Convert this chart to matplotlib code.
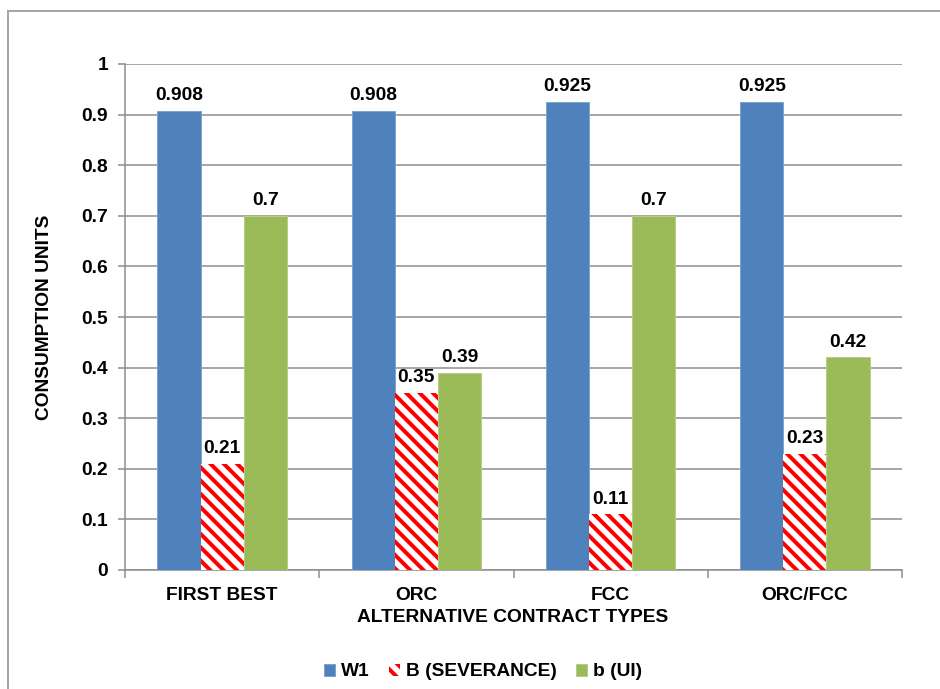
import numpy as np
import matplotlib.pyplot as plt
from matplotlib.patches import Rectangle

# 数据
categories = ['FIRST BEST', 'ORC', 'FCC', 'ORC/FCC']
w1 = [0.908, 0.908, 0.925, 0.925]
b_sev = [0.21, 0.35, 0.11, 0.23]
b_ui = [0.70, 0.39, 0.70, 0.42]
w1_labels = ['0.908', '0.908', '0.925', '0.925']
sev_labels = ['0.21', '0.35', '0.11', '0.23']
ui_labels = ['0.7', '0.39', '0.7', '0.42']

plt.rcParams['font.family'] = ['Liberation Sans', 'DejaVu Sans']
plt.rcParams['font.weight'] = 'bold'
plt.rcParams['hatch.linewidth'] = 2.4
plt.rcParams['hatch.color'] = '#FF0000'

fig = plt.figure(figsize=(940 / 120, 689 / 120), dpi=120)
ax = fig.add_axes([125 / 940, 1 - 570 / 689, 777 / 940, 506 / 689])

# 外框
fig.patches.append(Rectangle((8 / 940, -0.05), 1.2, 1 - 10.5 / 689 + 0.05,
                             transform=fig.transFigure, fill=False,
                             edgecolor='#A6A6A6', linewidth=1.2, zorder=0))

x = np.arange(len(categories))
w = 0.222
fs = 11.5
bars1 = ax.bar(x - w, w1, w, color='#4F81BD', edgecolor='#7EA3D3', linewidth=0.6,
               label='W1', zorder=3)
bars2 = ax.bar(x, b_sev, w, color='white', edgecolor='#FF0000', linewidth=0,
               hatch='\\\\\\', label='B (SEVERANCE)', zorder=3)
bars3 = ax.bar(x + w, b_ui, w, color='#9BBB59', edgecolor='#B5CF86', linewidth=0.6,
               label='b (UI)', zorder=3)

for bars, labs in [(bars1, w1_labels), (bars2, sev_labels), (bars3, ui_labels)]:
    ax.bar_label(bars, labels=labs, padding=4, fontsize=fs, fontweight='bold')

ax.set_xlim(-0.5, len(categories) - 0.5)
ax.set_ylim(0, 1)
ax.set_yticks(np.arange(0, 1.01, 0.1))
ax.set_yticklabels(['0'] + ['%.1f' % v for v in np.arange(0.1, 0.95, 0.1)] + ['1'])
ax.yaxis.grid(True, color='#8C8C8C', linewidth=0.9, zorder=0)
ax.set_axisbelow(True)

ax.set_xticks(x)
ax.set_xticklabels(categories)
ax.set_xticks(np.arange(-0.5, len(categories), 1), minor=True)
ax.tick_params(axis='x', which='major', length=0, pad=10, labelsize=fs)
ax.tick_params(axis='x', which='minor', length=5, color='#8C8C8C', width=0.9)
ax.tick_params(axis='y', length=4, color='#8C8C8C', width=0.9, labelsize=fs, pad=6)

for s in ['top', 'right']:
    ax.spines[s].set_visible(False)
for s in ['left', 'bottom']:
    ax.spines[s].set_color('#8C8C8C')
    ax.spines[s].set_linewidth(0.9)

fig.text(45 / 940, 1 - 317 / 689, 'CONSUMPTION UNITS', rotation=90,
         ha='center', va='center', fontsize=fs, fontweight='bold')
fig.text(513 / 940, 1 - 617 / 689, 'ALTERNATIVE CONTRACT TYPES',
         ha='center', va='center', fontsize=fs, fontweight='bold')

fig.legend(loc='center', bbox_to_anchor=(483 / 940, 1 - 672 / 689), ncol=3,
           frameon=False, handlelength=0.6, handleheight=0.6,
           handletextpad=0.3, columnspacing=1.0,
           prop={'weight': 'bold', 'size': fs})

fig.savefig('out.png', dpi=120)
